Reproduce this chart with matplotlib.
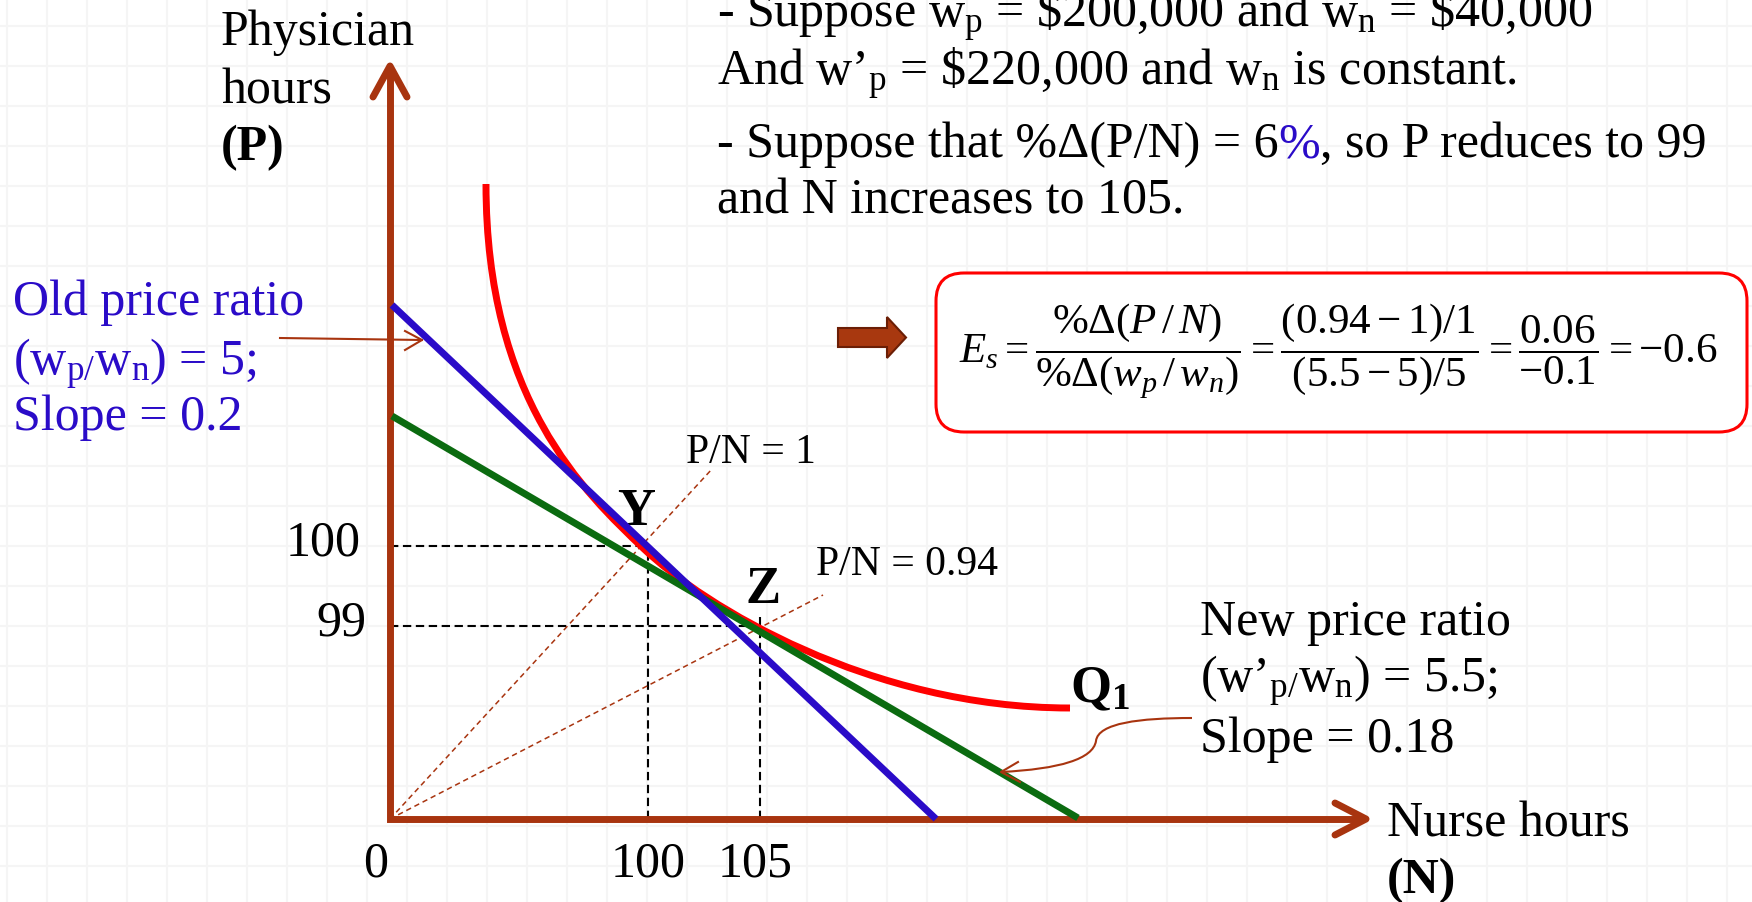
import numpy as np
import matplotlib.pyplot as plt
from matplotlib.patches import FancyBboxPatch, Polygon, PathPatch
from matplotlib.path import Path

plt.rcParams['font.family'] = 'Liberation Serif'
plt.rcParams['mathtext.fontset'] = 'custom'
plt.rcParams['mathtext.rm'] = 'Liberation Serif'
plt.rcParams['mathtext.it'] = 'Liberation Serif:italic'
plt.rcParams['mathtext.bf'] = 'Liberation Serif:bold'

# diagram units (N right, P up), origin at the corner of the two axes
# isoquant Q1 as two cubic Bezier pieces: start -> Y -> end
q1_ctrl_n = [96, 96, 194, 254, 314, 480, 680]
q1_ctrl_p = [635, 420, 327, 270, 213, 111, 111]

# old and new isocost lines (end points)
old_cost_n = [2, 546]
old_cost_p = [514, 0]
new_cost_n = [2, 688]
new_cost_p = [403, 1]

# cost-minimising points Y and Z, and the P/N rays through them
point_y = (258, 273)
point_z = (370, 193)
ray_labels = ['P/N = 1', 'P/N = 0.94']
ray_ends = [(322, 350), (433, 224)]

n_tick_labels = ['0', '100', '105']
p_tick_labels = ['100', '99']

brown = '#A8340F'
blue = '#2A0BC8'
green = '#0B6B10'
red = '#FF0000'

fig = plt.figure(figsize=(17.52, 9.03), dpi=100)
ax = fig.add_axes([0, 0, 1, 1])
ax.set_xlim(-390, 1362)
ax.set_ylim(-83, 820)
ax.axis('off')

# faint squared paper
ax.vlines(np.arange(-383, 1362, 40), -83, 820, color='#F5F5F5', lw=1.5, zorder=0)
ax.hlines(np.arange(793, -83, -40), -390, 1362, color='#F5F5F5', lw=1.5, zorder=0)

# dashed guides to the axes
dash = dict(color='black', lw=1.5, dashes=(4, 2.2), zorder=2)
ax.plot([0, point_y[0]], [point_y[1], point_y[1]], **dash)
ax.plot([point_y[0], point_y[0]], [0, point_y[1]], **dash)
ax.plot([0, point_z[0]], [point_z[1], point_z[1]], **dash)
ax.plot([point_z[0], point_z[0]], [0, point_z[1] + 9], **dash)

# P/N rays from the origin
for end in ray_ends:
    ax.plot([0, end[0]], [0, end[1]], color=brown, lw=1.1, dashes=(3.5, 2.5), zorder=2)

# axes with arrow heads
ax.plot([0, 0, 972], [748, 0, 0], color=brown, lw=5, solid_joinstyle='miter',
        solid_capstyle='butt', zorder=3)
ax.plot([-17, 0, 17], [722, 753, 722], color=brown, lw=5, solid_capstyle='round', zorder=3)
ax.plot([945, 976, 945], [16, 0, -16], color=brown, lw=5, solid_capstyle='round', zorder=3)

# isoquant and isocost lines
q1_path = Path(list(zip(q1_ctrl_n, q1_ctrl_p)),
               [Path.MOVETO] + [Path.CURVE4] * 6)
ax.add_patch(PathPatch(q1_path, fc='none', ec=red, lw=5, capstyle='butt', zorder=4))
ax.plot(new_cost_n, new_cost_p, color=green, lw=5, solid_capstyle='butt', zorder=5)
ax.plot(old_cost_n, old_cost_p, color=blue, lw=5, solid_capstyle='butt', zorder=6)

# tick labels
for lab, x, dx in zip(n_tick_labels, [0, point_y[0], point_z[0]], [-14, 0, -5]):
    ax.text(x + dx, -57, lab, fontsize=36, ha='center', va='baseline')
ax.text(-29, point_y[1] - 8, p_tick_labels[0], fontsize=36, ha='right', va='baseline')
ax.text(-24, point_z[1] - 9, p_tick_labels[1], fontsize=36, ha='right', va='baseline')

# ray labels and point names
ax.text(296, 357, ray_labels[0], fontsize=30, va='baseline')
ax.text(426, 245, ray_labels[1], fontsize=30, va='baseline')
ax.text(246, 295, 'Y', fontsize=38, fontweight='bold', ha='center', va='baseline')
ax.text(373, 217, 'Z', fontsize=38, fontweight='bold', ha='center', va='baseline')
ax.text(680, 118, r'$\mathbf{Q_1}$', fontsize=38, va='baseline')

# axis titles
ax.text(-169, 775, 'Physician', fontsize=36, va='baseline')
ax.text(-169, 717, 'hours', fontsize=36, va='baseline')
ax.text(-169, 660, '(P)', fontsize=36, fontweight='bold', va='baseline')
ax.text(997, -17, 'Nurse hours', fontsize=36, va='baseline')
ax.text(997, -73, '(N)', fontsize=36, fontweight='bold', va='baseline')

# old price ratio note with its pointer
ax.text(-377, 505, 'Old price ratio', fontsize=36, color=blue, va='baseline')
ax.text(-377, 445, r'(w$_\mathrm{p/}$w$_\mathrm{n}$) = 5;', fontsize=36, color=blue, va='baseline')
ax.text(-377, 390, 'Slope = 0.2', fontsize=36, color=blue, va='baseline')
ax.plot([-110, 32], [481, 479], color=brown, lw=1.5, zorder=7)
ax.plot([15, 32, 15], [488, 479, 469], color=brown, lw=1.5, zorder=7)

# new price ratio note with a curved pointer to the green line
ax.text(810, 185, 'New price ratio', fontsize=36, va='baseline')
ax.text(810, 128, r'(w’$_\mathrm{p/}$w$_\mathrm{n}$) = 5.5;', fontsize=36, va='baseline')
ax.text(810, 68, 'Slope = 0.18', fontsize=36, va='baseline')
curve = Path([(802, 101), (750, 101), (708, 96), (706, 78),
              (703, 60), (670, 50), (611, 47)],
             [Path.MOVETO, Path.CURVE4, Path.CURVE4, Path.CURVE4,
              Path.CURVE4, Path.CURVE4, Path.CURVE4])
ax.add_patch(PathPatch(curve, fc='none', ec=brown, lw=1.5, zorder=7))
ax.plot([628, 611, 630], [57, 47, 37], color=brown, lw=1.5, zorder=7)

# block arrow pointing at the elasticity box
ax.add_patch(Polygon([(448, 491), (497, 491), (497, 502), (516, 481.5),
                      (497, 461), (497, 472), (448, 472)],
                     closed=True, fc='#A8380F', ec='#6B1E05', lw=1.5, zorder=7))

# elasticity box
ax.add_patch(FancyBboxPatch((546, 387), 811, 159, boxstyle='round,pad=0,rounding_size=28',
                            fc='white', ec=red, lw=2.2, zorder=7))
formula = (r'$E_s = \dfrac{\%\Delta(P\,/\,N)}{\%\Delta(w_p\,/\,w_n)}'
           r' = \dfrac{(0.94-1)/1}{(5.5-5)/5} = \dfrac{0.06}{-0.1} = -0.6$')
ax.text(948, 469, formula, fontsize=31, ha='center', va='center', zorder=8)

# notes at the top
ax.text(327, 793, r'- Suppose w$_\mathrm{p}$ = \$200,000 and w$_\mathrm{n}$ = \$40,000',
        fontsize=36, va='baseline')
ax.text(327, 735, r'And w’$_\mathrm{p}$ = \$220,000 and w$_\mathrm{n}$ is constant.',
        fontsize=36, va='baseline')
renderer = fig.canvas.get_renderer()
x = 327
for s, c in [('- Suppose that %Δ(P/N) = 6', 'black'), ('%', blue),
             (', so P reduces to 99', 'black')]:
    t = ax.text(x, 663, s, fontsize=36, color=c, va='baseline')
    bb = t.get_window_extent(renderer=renderer)
    x = ax.transData.inverted().transform((bb.x1, bb.y0))[0]
ax.text(327, 607, 'and N increases to 105.', fontsize=36, va='baseline')

fig.savefig('out.png', dpi=100)
